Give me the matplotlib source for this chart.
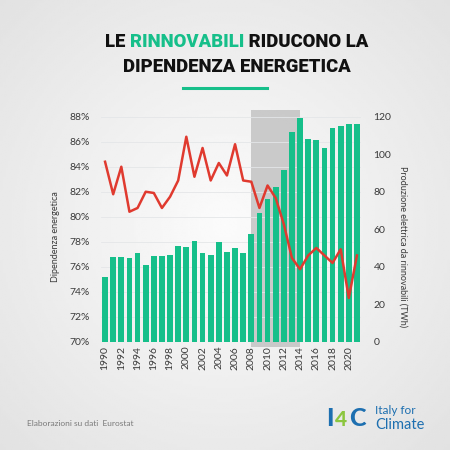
import matplotlib.pyplot as plt
import numpy as np

# dati
anni = np.arange(1990, 2022)
dipendenza = [84.4, 81.8, 84.0, 80.4, 80.7, 82.0, 81.9, 80.7, 81.6, 82.9,
              86.4, 83.2, 85.5, 82.9, 84.3, 83.3, 85.8, 82.9, 82.8, 80.7,
              82.5, 81.5, 79.4, 76.7, 75.8, 76.9, 77.5, 76.9, 76.3, 77.4,
              73.5, 76.9]
rinnovabili = [34.3, 45.0, 45.2, 44.6, 47.5, 40.9, 45.7, 45.7, 46.0, 51.0,
               50.3, 53.9, 47.5, 46.4, 53.3, 48.0, 50.1, 47.1, 57.6, 68.4,
               76.3, 82.3, 91.6, 111.6, 119.5, 108.3, 107.4, 103.1, 113.8, 115.2,
               116.3, 116.3]
tick_anni = list(range(1990, 2021, 2))
tick_pct = list(range(70, 89, 2))
tick_twh = list(range(0, 121, 20))

VERDE = "#16bf8a"
ROSSO = "#e03a2f"
TESTO = "#3a3a3a"

plt.rcParams["font.family"] = ["Lato", "DejaVu Sans"]

fig = plt.figure(figsize=(4.5, 4.5), dpi=100)

# sfondo sfumato
bg = fig.add_axes([0, 0, 1, 1], zorder=-10)
yy, xx = np.mgrid[-1:1:200j, -1:1:200j]
r = np.sqrt(xx**2 + yy**2)
bg.imshow(np.clip(0.985 - 0.07 * r, 0, 1), cmap="gray", vmin=0, vmax=1,
          extent=[0, 1, 0, 1], aspect="auto")
bg.axis("off")

ax2 = fig.add_axes([101 / 450, 108.3 / 450, 260 / 450, 231.7 / 450])
ax = ax2.twinx()
ax2.set_zorder(1)
ax.set_zorder(2)
ax.patch.set_visible(False)

# barre sulla scala TWh
ax2.set_ylim(0, 123.6)
ax2.set_xlim(1989.5, 2021.5)
ax2.axvspan(2007.9, 2014.0, ymin=-0.025, ymax=1, color="#c3c3c3",
            alpha=0.85, lw=0, clip_on=False, zorder=0)
ax2.bar(anni, rinnovabili, width=0.7, color=VERDE, zorder=2)
ax2.patch.set_visible(False)

ax.set_ylim(70, 88.54)
ax.plot(anni, dipendenza, color=ROSSO, lw=1.8, zorder=3)

# il grafico ha le % a sinistra e i TWh a destra
ax.yaxis.tick_left()
ax2.yaxis.tick_right()
ax.set_yticks(tick_pct)
ax.set_yticklabels([f"{v}%" for v in tick_pct])
ax2.set_yticks(tick_twh)
for v in tick_pct:
    ax2.axhline((v - 70) / 18.54 * 123.6, color="#e4e6e8", lw=0.6, zorder=1)

ax2.set_xticks(tick_anni)
ax2.set_xticklabels([str(a) for a in tick_anni], rotation=90)

for a in (ax, ax2):
    for s in a.spines.values():
        s.set_visible(False)
    a.tick_params(length=0, labelsize=7.5, colors=TESTO)
ax.tick_params(axis="y", pad=8)
ax2.tick_params(axis="y", pad=9)
ax2.tick_params(axis="x", pad=3)

fig.text(55 / 450, 1 - 237 / 450, "Dipendenza energetica", rotation=90,
         ha="center", va="center", fontsize=6.5, color=TESTO)
fig.text(403 / 450, 1 - 247 / 450, "Produzione elettrica da rinnovabili (TWh)",
         rotation=270, ha="center", va="center", fontsize=6.5, color=TESTO)

# titolo con parola evidenziata
tfont = dict(fontsize=13.3, fontweight="heavy", family=["Roboto", "DejaVu Sans"],
             va="center")
pezzi = [("LE ", "#111111"), ("RINNOVABILI", VERDE), (" RIDUCONO LA", "#111111")]
renderer = fig.canvas.get_renderer()
testi = [fig.text(0, 1 - 42 / 450, s, color=c, **tfont) for s, c in pezzi]
larg = [t.get_window_extent(renderer).width for t in testi]
x0 = (237 - sum(larg) / 2) / 450
for t, w in zip(testi, larg):
    t.set_x(x0)
    x0 += w / 450
fig.text(237 / 450, 1 - 67 / 450, "DIPENDENZA ENERGETICA", color="#111111",
         ha="center", **tfont)
fig.add_artist(plt.Line2D([183 / 450, 267 / 450], [1 - 88 / 450] * 2,
                          color=VERDE, lw=2.2))

fig.text(27 / 450, 1 - 423 / 450, "Elaborazioni su dati  Eurostat",
         fontsize=6, color="#7a7a7a", va="center")

# logo
fig.text(326 / 450, 1 - 419 / 450, "I", fontsize=18, fontweight="black",
         color="#1d6fb0", va="center")
fig.text(335 / 450, 1 - 419 / 450, "4", fontsize=15, fontweight="black",
         color="#8cc63f", va="center")
fig.text(349 / 450, 1 - 419 / 450, "C", fontsize=18, fontweight="black",
         color="#1d6fb0", va="center")
fig.text(375 / 450, 1 - 411 / 450, "Italy for", fontsize=8.5,
         color="#1d6fb0", va="center")
fig.text(375 / 450, 1 - 425 / 450, "Climate", fontsize=10.5,
         color="#1d6fb0", va="center")

fig.savefig("out.png", dpi=100)
